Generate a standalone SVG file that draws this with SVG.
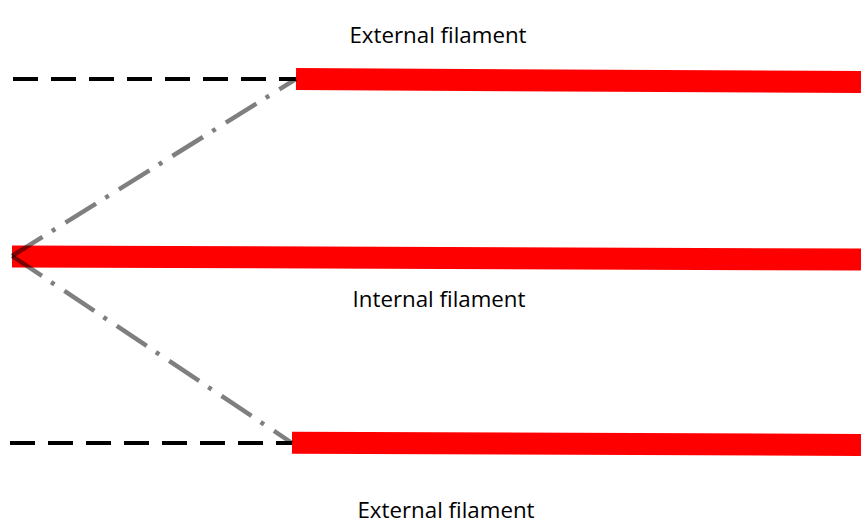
<svg xmlns="http://www.w3.org/2000/svg" width="861" height="524" viewBox="0 0 861 524">
<style>
.fil{stroke:#ff0000;stroke-width:22;fill:none}
.ref{stroke:#000;stroke-width:4;stroke-dasharray:25 13;fill:none}
.axis{stroke:#000;stroke-opacity:0.5;stroke-width:4.5;stroke-dasharray:36 11 4 12;fill:none}
.lbl{font-family:"Open Sans","Liberation Sans",sans-serif;font-size:22.3px;fill:#000;text-anchor:middle}
</style>
<rect width="861" height="524" fill="#fff"/>
<g id="external-top">
<line class="fil" x1="296" y1="79" x2="861" y2="82"/>
<text class="lbl" x="438" y="43">External filament</text>
</g>
<g id="internal">
<line class="fil" x1="12" y1="256.5" x2="861" y2="259.5"/>
<text class="lbl" x="439" y="307">Internal filament</text>
</g>
<g id="external-bottom">
<line class="fil" x1="292" y1="442.7" x2="861" y2="445"/>
<text class="lbl" x="446" y="518">External filament</text>
</g>
<g id="connectors">
<line class="ref" x1="13" y1="79" x2="296" y2="79"/>
<line class="ref" x1="10" y1="443" x2="292" y2="443"/>
<line class="axis" x1="12" y1="256" x2="296" y2="79"/>
<line class="axis" x1="12" y1="256" x2="292" y2="443"/>
</g>
</svg>
